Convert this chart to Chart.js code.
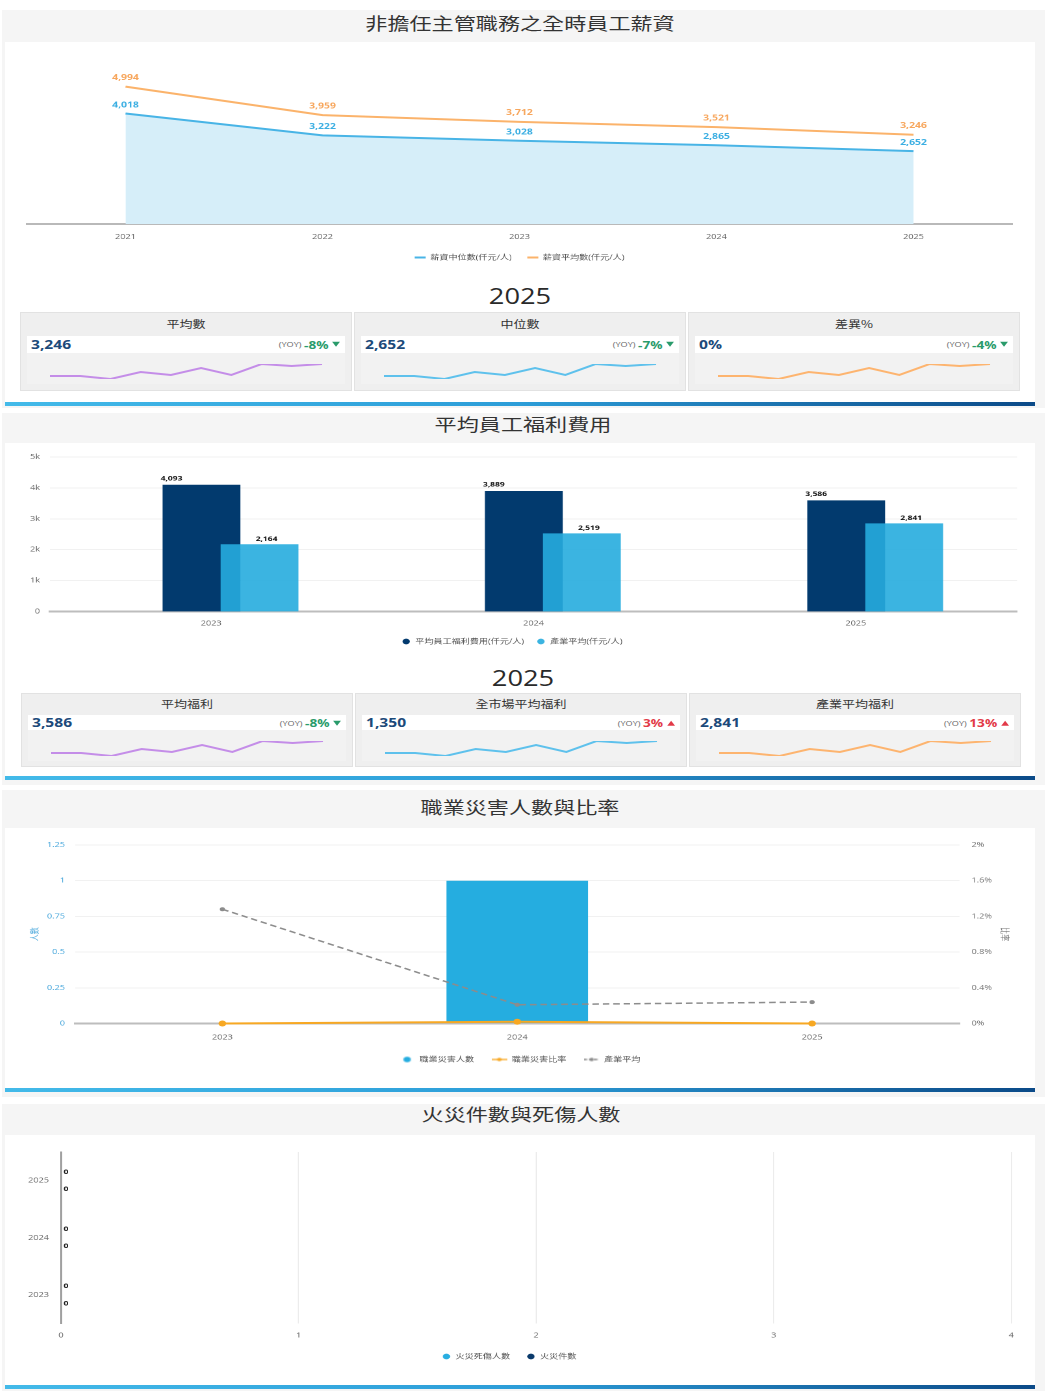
<!DOCTYPE html>
<html lang="zh-Hant">
<head>
<meta charset="utf-8">
<title>薪資與福利儀表板</title>
<script src="https://cdn.jsdelivr.net/npm/chart.js@4.4.1/dist/chart.umd.min.js"></script>
<style>
html,body{margin:0;padding:0;background:#fff;}
body{width:1047px;height:1391px;position:relative;overflow:hidden;font-family:'Open Sans','Noto Sans CJK TC',sans-serif;}
.ctext{position:absolute;white-space:nowrap;transform:translate(-50%,-50%) scaleX(1.3);line-height:1;}
.title{font-family:'Noto Sans CJK TC','Noto Sans',sans-serif;font-size:17px;color:#333;}
.year{font-family:'Open Sans',sans-serif;font-size:21px;color:#2a2a2a;}
.ctitle{font-family:'Noto Sans CJK TC','Noto Sans',sans-serif;font-size:10px;color:#333;}
.card{position:absolute;width:332px;background:#efefef;border:1px solid #e2e2e2;box-sizing:border-box;}
.row{position:absolute;left:6px;width:318px;background:#fff;}
.val{position:absolute;left:4px;top:50%;transform:translateY(-50%) scaleX(1.3);transform-origin:left center;font-weight:700;font-size:12px;color:#1c4a7a;white-space:nowrap;line-height:1;}
.yoy{position:absolute;right:5px;top:50%;transform:translateY(-50%) scaleX(1.3);transform-origin:right center;white-space:nowrap;line-height:1;display:flex;align-items:center;}
.yoy .lab{font-size:7px;color:#666;margin-right:2px;}
.yoy .pct{font-size:10.5px;font-weight:700;margin-right:3px;}
.tri{display:inline-block;width:0;height:0;border-left:3px solid transparent;border-right:3px solid transparent;}
</style>
</head>
<body>
<script>
// ---------------- DATA ----------------
const salaryYears = ['2021', '2022', '2023', '2024', '2025'];
const salaryMedian = [4018, 3222, 3028, 2865, 2652];
const salaryMean = [4994, 3959, 3712, 3521, 3246];

const kpiYear = '2025';
const salaryKpiTitles = ['平均數', '中位數', '差異%'];
const salaryKpiValues = ['3,246', '2,652', '0%'];
const salaryKpiYoy = [-8, -7, -4];

const benefitYears = ['2023', '2024', '2025'];
const benefitAvg = [4093, 3889, 3586];
const benefitIndustry = [2164, 2519, 2841];

const benefitKpiTitles = ['平均福利', '全市場平均福利', '產業平均福利'];
const benefitKpiValues = ['3,586', '1,350', '2,841'];
const benefitKpiYoy = [-8, 3, 13];

const sparkTrend = [4, 4, 1, 8, 5, 12, 5, 16, 14, 16];

const injuryYears = ['2023', '2024', '2025'];
const injuryCount = [0, 1, 0];
const injuryRate = [0, 0.02, 0];          // %
const injuryIndustry = [1.28, 0.21, 0.24]; // %

const fireYears = ['2023', '2024', '2025'];
const fireCasualties = [0, 0, 0];
const fireCases = [0, 0, 0];

// ---------------- STYLE / LAYOUT ----------------
const SX = 1.3; // horizontal stretch of the reference rendering
const sparkColors = ['#c48de8', '#5ec1ec', '#fdb46f'];
const barShift = { avg: -0.03, industry: 0.15 }; // in category-width units

Chart.defaults.font.family = "'Open Sans','Noto Sans CJK TC',sans-serif";
Chart.defaults.font.size = 7;
Chart.defaults.color = '#666';

function box(css, parent) {
  const d = document.createElement('div');
  d.style.cssText = 'position:absolute;' + css;
  (parent || document.body).appendChild(d);
  return d;
}
function centerText(txt, x, y, cls, parent) {
  const d = box('left:' + x + 'px;top:' + y + 'px;', parent);
  d.className = 'ctext ' + cls;
  d.textContent = txt;
  return d;
}
function makeCanvas(L, T, W, H, stretch, parent) {
  const c = document.createElement('canvas');
  c.width = Math.round(W / stretch);
  c.height = H;
  c.style.cssText = 'position:absolute;left:' + L + 'px;top:' + T + 'px;width:' + W + 'px;height:' + H + 'px;';
  (parent || document.body).appendChild(c);
  return c;
}

// sections
[[10, 398], [413, 372], [790, 307], [1104, 287]].forEach(([t, h]) =>
  box('left:2px;top:' + t + 'px;width:1043px;height:' + h + 'px;background:#f5f5f5;'));
[[42, 364], [443, 337], [828, 264], [1135, 254]].forEach(([t, h]) =>
  box('left:5px;top:' + t + 'px;width:1030px;height:' + h + 'px;background:#fff;'));
[402, 776, 1088, 1385].forEach(t =>
  box('left:5px;top:' + t + 'px;width:1030px;height:4px;background:linear-gradient(to right,#43bae9 0%,#2c9dd8 50%,#0b4a88 100%);'));

centerText('非擔任主管職務之全時員工薪資', 520, 22, 'title');
centerText('平均員工福利費用', 523, 423, 'title');
centerText('職業災害人數與比率', 520, 806, 'title');
centerText('火災件數與死傷人數', 521, 1113, 'title');
centerText(kpiYear, 520, 296, 'year');
centerText(kpiYear, 523, 678, 'year');

// value label plugin
const valueLabels = {
  id: 'valueLabels',
  afterDatasetsDraw(chart) {
    const ctx = chart.ctx;
    chart.data.datasets.forEach((ds, di) => {
      const cfg = ds.valueLabel;
      const meta = chart.getDatasetMeta(di);
      if (!cfg || meta.hidden) return;
      ctx.save();
      ctx.font = cfg.font;
      ctx.fillStyle = cfg.color;
      ctx.textAlign = cfg.align || 'center';
      ctx.textBaseline = 'middle';
      meta.data.forEach((el, i) => {
        const v = ds.data[i];
        ctx.fillText(Number(v).toLocaleString('en-US'), el.x + (cfg.dx || 0), el.y + (cfg.dy || 0));
      });
      ctx.restore();
    });
  }
};

// ---------------- KPI CARDS ----------------
function buildCards(top, height, lefts, titleY, rowTop, rowH, sparkTop, titles, values, yoys) {
  lefts.forEach((left, i) => {
    const card = box('left:' + left + 'px;top:' + top + 'px;height:' + height + 'px;');
    card.className = 'card';
    centerText(titles[i], 165, titleY, 'ctitle', card);
    const row = box('top:' + rowTop + 'px;height:' + rowH + 'px;', card);
    row.className = 'row';
    const v = box('', row); v.className = 'val'; v.textContent = values[i];
    const y = box('', row); y.className = 'yoy';
    const up = yoys[i] > 0;
    const col = up ? '#e23a48' : '#2a9b6b';
    y.innerHTML = '<span class="lab">(YOY)</span><span class="pct" style="color:' + col + '">' + yoys[i] + '%</span>' +
      '<span class="tri" style="' + (up ? 'border-bottom:5px solid ' + col : 'border-top:5px solid ' + col) + '"></span>';
    box('left:6px;top:' + (sparkTop - 6) + 'px;width:318px;height:31px;background:#f2f2f2;', card);
    const c = makeCanvas(23, sparkTop, 284, 25, 1, card);
    new Chart(c, {
      type: 'line',
      data: {
        labels: sparkTrend.map((_, k) => String(k + 1)),
        datasets: [{ data: sparkTrend, borderColor: sparkColors[i], borderWidth: 2, pointRadius: 0, tension: 0 }]
      },
      options: {
        responsive: false, animation: false, devicePixelRatio: 2,
        layout: { padding: { left: 6, right: 6, top: 5, bottom: 5 } },
        scales: {
          x: { display: false },
          y: { display: false, min: Math.min(...sparkTrend), max: Math.max(...sparkTrend) }
        },
        plugins: { legend: { display: false }, tooltip: { enabled: false } }
      }
    });
  });
}
buildCards(312, 79, [20, 354, 688], 11, 23, 17, 46, salaryKpiTitles, salaryKpiValues, salaryKpiYoy);
buildCards(693, 74, [21, 355, 689], 10, 21, 16, 42, benefitKpiTitles, benefitKpiValues, benefitKpiYoy);

// ---------------- CHART 1: salary lines ----------------
function lineLegend(chart) {
  return chart.data.datasets.map((ds, i) => ({
    text: ds.label, fillStyle: ds.borderColor, strokeStyle: ds.borderColor,
    lineWidth: 0, hidden: false, datasetIndex: i, fontColor: '#555'
  }));
}
new Chart(makeCanvas(7, 42, 1028, 229, SX), {
  type: 'line',
  data: {
    labels: salaryYears,
    datasets: [
      { label: '薪資中位數(仟元/人)', data: salaryMedian, borderColor: '#48b4e6', backgroundColor: '#d6eef9',
        fill: 'origin', borderWidth: 2, pointRadius: 0, tension: 0,
        valueLabel: { font: 'bold 8px "Open Sans"', color: '#3aaee2', dy: -8.5 } },
      { label: '薪資平均數(仟元/人)', data: salaryMean, borderColor: '#fbb36b', backgroundColor: '#fbb36b',
        fill: false, borderWidth: 2, pointRadius: 0, tension: 0,
        valueLabel: { font: 'bold 8px "Open Sans"', color: '#f7a65c', dy: -9 } }
    ]
  },
  options: {
    responsive: false, animation: false, devicePixelRatio: 2,
    layout: { padding: { left: 20 / SX, right: 23 / SX, top: 17, bottom: 0 } },
    scales: {
      x: { offset: true, grid: { display: false, drawTicks: false }, border: { color: '#b9b9b9', width: 2 },
           ticks: { padding: 9, color: '#666' }, afterFit: s => { s.height = 18; } },
      y: { display: false, min: 0, max: 6000 }
    },
    plugins: {
      legend: { position: 'bottom', labels: { padding: 12, boxWidth: 11 / SX, boxHeight: 2, color: '#555', generateLabels: lineLegend } },
      tooltip: { enabled: false }
    }
  },
  plugins: [valueLabels]
});

// ---------------- CHART 2: benefit bars ----------------
function shiftedAxis(shift) {
  return { type: 'linear', display: false, offset: false, grace: 0,
    min: +benefitYears[0] - 0.5 - shift, max: +benefitYears[benefitYears.length - 1] + 0.5 - shift };
}
new Chart(makeCanvas(7, 443, 1028, 212, SX), {
  type: 'bar',
  data: {
    labels: benefitYears,
    datasets: [
      { label: '平均員工福利費用(仟元/人)', data: benefitAvg, xAxisID: 'xAvg', backgroundColor: '#023a6e',
        borderWidth: 0, order: 1, grouped: false, barThickness: 77 / SX,
        valueLabel: { font: 'bold 6.5px "Open Sans"', color: '#111', dx: -30 / SX, dy: -6.5 } },
      { label: '產業平均(仟元/人)', data: benefitIndustry, xAxisID: 'xInd', backgroundColor: 'rgba(38,172,222,0.9)',
        borderWidth: 0, order: 0, grouped: false, barThickness: 77 / SX,
        valueLabel: { font: 'bold 6.5px "Open Sans"', color: '#111', dx: 7 / SX, dy: -5.5 } }
    ]
  },
  options: {
    responsive: false, animation: false, devicePixelRatio: 2,
    layout: { padding: { left: 0, right: 18 / SX, top: 14, bottom: 0 } },
    scales: {
      x: { type: 'category', offset: true, grid: { display: false, drawTicks: false },
           border: { color: '#bdbdbd', width: 2 }, ticks: { padding: 8 }, afterFit: s => { s.height = 17; } },
      xAvg: shiftedAxis(barShift.avg),
      xInd: shiftedAxis(barShift.industry),
      y: { min: 0, max: 5000, ticks: { stepSize: 1000, padding: 10 / SX, callback: v => v === 0 ? '0' : (v / 1000) + 'k' },
           grid: { color: '#f1f1f1', drawTicks: false }, border: { display: false }, afterFit: s => { s.width = 43 / SX; } }
    },
    plugins: {
      legend: { position: 'bottom', reverse: true,
        labels: { usePointStyle: true, pointStyle: 'circle', boxHeight: 4, padding: 9.5, color: '#555' } },
      tooltip: { enabled: false }
    }
  },
  plugins: [valueLabels]
});

// ---------------- CHART 3: occupational injuries ----------------
function legendIcon(color, withLine, dash) {
  const c = document.createElement('canvas');
  c.width = 12; c.height = 6;
  const g = c.getContext('2d');
  if (withLine) {
    g.strokeStyle = color; g.lineWidth = 1.3; g.setLineDash(dash || []);
    g.beginPath(); g.moveTo(0, 3); g.lineTo(12, 3); g.stroke();
  }
  g.fillStyle = color;
  g.beginPath(); g.arc(6, 3, withLine ? 1.8 : 2.8, 0, Math.PI * 2); g.fill();
  return c;
}
const injuryDatasets = [
  { type: 'bar', label: '職業災害人數', data: injuryCount, yAxisID: 'y', backgroundColor: '#25ade0',
    borderWidth: 0, order: 2, categoryPercentage: 0.6, barPercentage: 0.8 },
  { type: 'line', label: '職業災害比率', data: injuryRate, yAxisID: 'y1', borderColor: '#f7a823', backgroundColor: '#f7a823',
    borderWidth: 2, pointRadius: 3, pointBorderWidth: 0, tension: 0, order: 1, clip: 4 },
  { type: 'line', label: '產業平均', data: injuryIndustry, yAxisID: 'y1', borderColor: '#8c8c8c', backgroundColor: '#8c8c8c',
    borderWidth: 1.5, borderDash: [5, 3], pointRadius: 2, pointBorderWidth: 0, tension: 0, order: 0 }
];
const injuryIcons = [legendIcon('#25ade0', false), legendIcon('#f7a823', true), legendIcon('#8c8c8c', true, [2.5, 1.5])];
new Chart(makeCanvas(7, 828, 1028, 245, SX), {
  type: 'bar',
  data: { labels: injuryYears, datasets: injuryDatasets },
  options: {
    responsive: false, animation: false, devicePixelRatio: 2,
    layout: { padding: { left: 13.3, right: 15.1, top: 17, bottom: 0 } },
    scales: {
      x: { offset: true, grid: { display: false, drawTicks: false }, border: { color: '#bdbdbd', width: 2 },
           ticks: { padding: 10 }, afterFit: s => { s.height = 19; } },
      y: { position: 'left', min: 0, max: 1.25,
           ticks: { stepSize: 0.25, color: '#4aa8dc', padding: 7.7, callback: v => String(+v.toFixed(2)) },
           grid: { color: '#f1f1f1', drawTicks: false }, border: { display: false },
           title: { display: true, text: '人數', color: '#4aa8dc', font: { size: 7 } }, afterFit: s => { s.width = 39; } },
      y1: { position: 'right', min: 0, max: 2, ticks: { stepSize: 0.4, color: '#777', padding: 9.2, callback: v => (+v.toFixed(1)) + '%' },
            grid: { display: false, drawTicks: false }, border: { display: false },
            title: { display: true, text: '比率', color: '#777', font: { size: 7 } }, afterFit: s => { s.width = 43; } }
    },
    plugins: {
      legend: { position: 'bottom',
        labels: { usePointStyle: true, pointStyleWidth: 12, boxHeight: 6, padding: 13.5, color: '#555',
          generateLabels: chart => chart.data.datasets.map((ds, i) => ({
            text: ds.label, pointStyle: injuryIcons[i], fillStyle: ds.backgroundColor, strokeStyle: ds.backgroundColor,
            lineWidth: 0, hidden: false, datasetIndex: i, fontColor: '#555' })) } },
      tooltip: { enabled: false }
    }
  }
});

// ---------------- CHART 4: fires ----------------
new Chart(makeCanvas(7, 1135, 1026, 235, SX), {
  type: 'bar',
  data: {
    labels: fireYears,
    datasets: [
      { label: '火災死傷人數', data: fireCasualties, backgroundColor: '#29aee1', borderWidth: 0,
        categoryPercentage: 0.6, valueLabel: { font: 'bold 6.5px "Open Sans"', color: '#111', align: 'left', dx: 2 } },
      { label: '火災件數', data: fireCases, backgroundColor: '#0a3a6b', borderWidth: 0,
        categoryPercentage: 0.6, valueLabel: { font: 'bold 6.5px "Open Sans"', color: '#111', align: 'left', dx: 2 } }
    ]
  },
  options: {
    indexAxis: 'y',
    responsive: false, animation: false, devicePixelRatio: 2,
    layout: { padding: { left: 0, right: 16.7, top: 17, bottom: 0 } },
    scales: {
      x: { min: 0, max: 4, ticks: { stepSize: 1, padding: 8 }, grid: { color: '#ececec', drawTicks: false },
           border: { display: false }, afterFit: s => { s.height = 17; } },
      y: { reverse: true, grid: { display: false, drawTicks: false }, border: { color: '#8a8a8a', width: 1.2 },
           ticks: { padding: 9.2 }, afterFit: s => { s.width = 41.5; } }
    },
    plugins: {
      legend: { position: 'bottom', labels: { usePointStyle: true, pointStyle: 'circle', boxHeight: 4, padding: 12.5, color: '#555' } },
      tooltip: { enabled: false }
    }
  },
  plugins: [valueLabels]
});
</script>
</body>
</html>
